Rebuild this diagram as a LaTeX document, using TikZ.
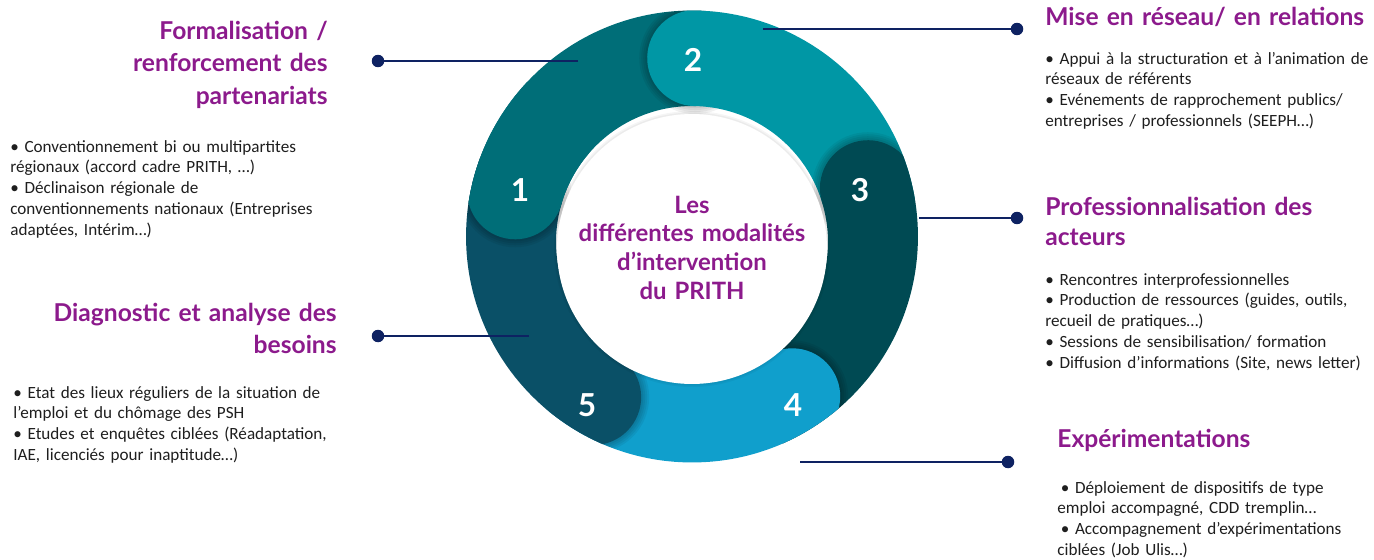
\documentclass[tikz,border=0pt]{standalone}
\usepackage{fontspec}
\setmainfont{Carlito}
\newfontfamily\titlefont{Lato}
\usetikzlibrary{calc}
\definecolor{segA}{HTML}{006E78}
\definecolor{segB}{HTML}{0097A5}
\definecolor{segC}{HTML}{004A53}
\definecolor{segD}{HTML}{109FCC}
\definecolor{segE}{HTML}{0A5067}
\definecolor{ttl}{HTML}{8C1A8C}
\definecolor{navy}{HTML}{0E2262}
\definecolor{bodytxt}{HTML}{1E1E1E}
\begin{document}
\begin{tikzpicture}[x=0.02cm,y=0.02cm,
  seg/.style={line width=1.92cm, line cap=round},
  capshadow/.style={fill=black, opacity=0.06},
  numlabel/.style={text=white, font=\titlefont\bfseries\fontsize{18}{18}\selectfont, inner sep=0},
  ttlL/.style={anchor=base east, inner sep=0, text width=9cm, align=right, text=ttl, font=\titlefont\bfseries\fontsize{14}{18.6}\selectfont},
  ttlR/.style={anchor=base west, inner sep=0, text width=9cm, align=left, text=ttl, font=\titlefont\bfseries\fontsize{14}{17.6}\selectfont},
  bodyblk/.style={anchor=base west, inner sep=0, text width=9cm, align=left, text=bodytxt, font=\fontsize{9.75}{11.9}\selectfont},
  dot/.style={circle, fill=navy, inner sep=0, minimum size=0.25cm},
  conn/.style={draw=navy, line width=0.9pt}
]
\useasboundingbox (0,0) rectangle (1374,559);
\coordinate (C) at (692,317);
\begin{scope}
  \clip (692,322.5) circle[radius=4.52cm];
  % segment 1
  \draw[seg, segA] ($(C)+(164:3.68cm)$) arc[start angle=164, end angle=89, radius=3.68cm];
  % segment 2
  \foreach \r in {1.0,1.04,1.08,1.12} \fill[capshadow] ($(C)+(89:3.68cm)$) circle[radius=\r cm];
  \draw[seg, segB] ($(C)+(89:3.68cm)$) arc[start angle=89, end angle=17, radius=3.68cm];
  % segment 3
  \foreach \r in {1.0,1.04,1.08,1.12} \fill[capshadow] ($(C)+(17:3.68cm)$) circle[radius=\r cm];
  \draw[seg, segC] ($(C)+(17:3.68cm)$) arc[start angle=17, end angle=-57, radius=3.68cm];
  % segment 4
  \foreach \r in {1.0,1.04,1.08,1.12} \fill[capshadow] ($(C)+(-57:3.68cm)$) circle[radius=\r cm];
  \draw[seg, segD] ($(C)+(-57:3.68cm)$) arc[start angle=-57, end angle=-122.5, radius=3.68cm];
  % segment 5
  \foreach \r in {1.0,1.04,1.08,1.12} \fill[capshadow] ($(C)+(-122.5:3.68cm)$) circle[radius=\r cm];
  \draw[seg, segE] ($(C)+(-122.5:3.68cm)$) arc[start angle=-122.5, end angle=-196, radius=3.68cm];
  % head of segment 1 over segment 5
  \foreach \r in {1.0,1.04,1.08,1.12} \fill[capshadow] ($(C)+(164:3.68cm)$) circle[radius=\r cm];
  \draw[seg, segA] ($(C)+(164:3.68cm)$) arc[start angle=164, end angle=140, radius=3.68cm];
  % inner hole
  \foreach \r in {2.76,2.73} \fill[black, opacity=0.04] (692,310) circle[radius=\r cm];
  \fill[white] (692,310) circle[radius=2.7cm];
\end{scope}

% numbers
\node[numlabel] (n1) at (520,369) {1};
\node[numlabel] (n2) at (693,499) {2};
\node[numlabel] (n3) at (860,369) {3};
\node[numlabel] (n4) at (793,154) {4};
\node[numlabel] (n5) at (587,154) {5};

% centre text
\node[anchor=base, inner sep=0, text width=6cm, align=center, text=ttl,
      font=\titlefont\bfseries\fontsize{13.6}{16.4}\selectfont] (centre) at (692,346)
  {Les\\différentes modalités\\d’intervention\\du PRITH};

% connectors
\node[dot] (dL1) at (378,498) {};
\node[dot] (dL2) at (378,223) {};
\node[dot] (dR1) at (1017,530) {};
\node[dot] (dR2) at (1017,341) {};
\node[dot] (dR3) at (1008,97) {};
\coordinate (e1) at (578,498);
\coordinate (e5) at (529,223);
\coordinate (e2) at (763,530);
\coordinate (e3) at (919,341);
\coordinate (e4) at (800,97);
\draw[conn] (e1) -- (dL1.center);
\draw[conn] (e5) -- (dL2.center);
\draw[conn] (e2) -- (dR1.center);
\draw[conn] (e3) -- (dR2.center);
\draw[conn] (e4) -- (dR3.center);

% left texts
\node[ttlL] (t1) at (328,520) {Formalisation /\\renforcement des\\partenariats};
\node[bodyblk] (b1) at (10,407) {• Conventionnement bi ou multipartites\\régionaux (accord cadre PRITH, …)\\• Déclinaison régionale de\\conventionnements nationaux (Entreprises\\adaptées, Intérim…)};
\node[ttlL] (t5) at (337,238) {Diagnostic et analyse des\\besoins};
\node[bodyblk] (b5) at (13,161) {• Etat des lieux réguliers de la situation de\\l’emploi et du chômage des PSH\\• Etudes et enquêtes ciblées (Réadaptation,\\IAE, licenciés pour inaptitude…)};

% right texts
\node[ttlR] (t2) at (1045,533) {Mise en réseau/ en relations};
\node[bodyblk] (b2) at (1045,495) {• Appui à la structuration et à l’animation de\\réseaux de référents\\• Evénements de rapprochement publics/\\entreprises / professionnels (SEEPH…)};
\node[ttlR] (t3) at (1045,344) {Professionnalisation des\\acteurs};
\node[bodyblk] (b3) at (1045,274) {• Rencontres interprofessionnelles\\• Production de ressources (guides, outils,\\recueil de pratiques…)\\• Sessions de sensibilisation/ formation\\• Diffusion d’informations (Site, news letter)};
\node[ttlR] (t4) at (1057,112) {Expérimentations};
\node[bodyblk] (b4) at (1057,66) {\hspace{0.2em}• Déploiement de dispositifs de type\\emploi accompagné, CDD tremplin…\\\hspace{0.2em}• Accompagnement d’expérimentations\\ciblées (Job Ulis…)};
\end{tikzpicture}
\end{document}
